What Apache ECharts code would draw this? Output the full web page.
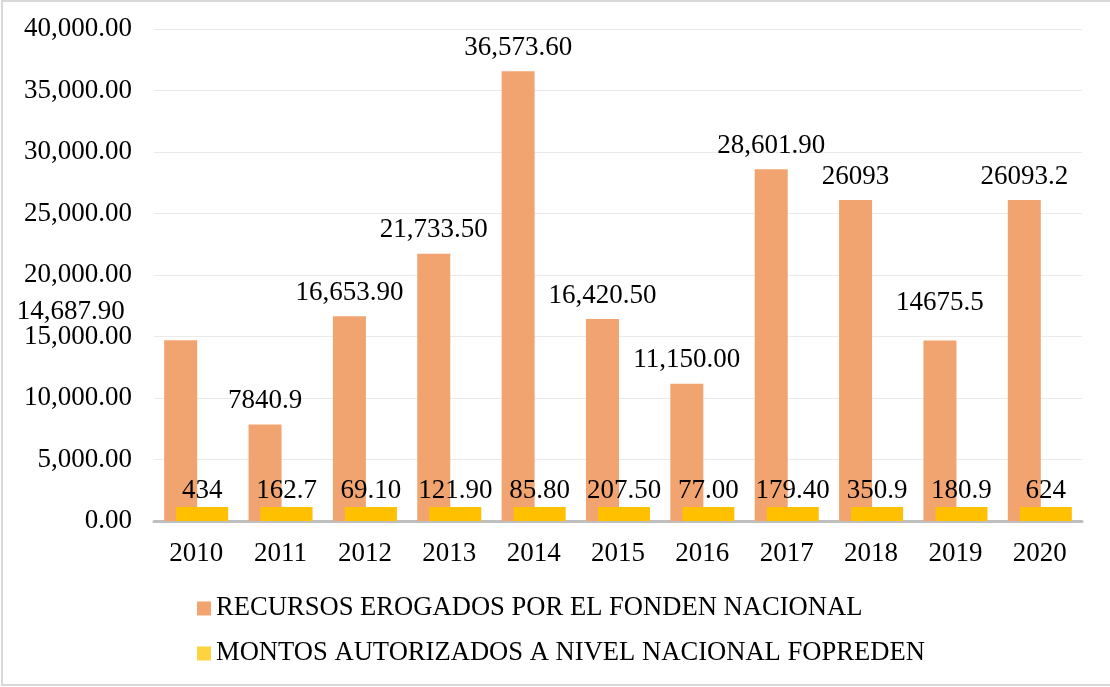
<!DOCTYPE html>
<html>
<head>
<meta charset="utf-8">
<script src="https://cdn.jsdelivr.net/npm/echarts@6/dist/echarts.min.js"></script>
<style>
  html, body { margin: 0; padding: 0; background: #fff; }
  #chart { width: 1110px; height: 687px; }
</style>
</head>
<body>
<div id="chart"></div>
<script>
// Years on the category axis
const years = ['2010', '2011', '2012', '2013', '2014', '2015', '2016', '2017', '2018', '2019', '2020'];

// FONDEN national resources paid out
const recursosFonden = [14687.90, 7840.9, 16653.90, 21733.50, 36573.60, 16420.50, 11150.00, 28601.90, 26093, 14675.5, 26093.2];
const recursosLabels = ['14,687.90', '7840.9', '16,653.90', '21,733.50', '36,573.60', '16,420.50', '11,150.00', '28,601.90', '26093', '14675.5', '26093.2'];

// FOPREDEN amounts authorised nationally
const montosFopreden = [434, 162.7, 69.10, 121.90, 85.80, 207.50, 77.00, 179.40, 350.9, 180.9, 624];
const montosLabels = ['434', '162.7', '69.10', '121.90', '85.80', '207.50', '77.00', '179.40', '350.9', '180.9', '624'];

// Series names shown in the legend
const seriesNames = ['RECURSOS EROGADOS POR EL FONDEN NACIONAL', 'MONTOS AUTORIZADOS A NIVEL NACIONAL FOPREDEN'];

// Value axis range
const yMin = 0, yMax = 40000, yStep = 5000;

const FONT = '"Liberation Serif", "Times New Roman", serif';
const FS = 27;
const ORANGE = '#F1A46F';
const YELLOW = '#FFC000';

const chart = echarts.init(document.getElementById('chart'), null, { renderer: 'canvas' });

const fmt2 = v => v.toLocaleString('en-US', { minimumFractionDigits: 2, maximumFractionDigits: 2 });

// A couple of value labels sit away from their bars
const labelOffsets = { 0: [-110, -5], 9: [0, -14] };

chart.setOption({
  animation: false,
  backgroundColor: '#fff',
  textStyle: { fontFamily: FONT, color: '#000' },
  graphic: [{
    type: 'rect',
    shape: { x: 2, y: 1, width: 1120, height: 684 },
    style: { fill: 'none', stroke: '#D9D9D9', lineWidth: 2 },
    silent: true,
    z: -10
  }],
  grid: { left: 154, right: 28, top: 29, bottom: 166, containLabel: false },
  legend: {
    orient: 'vertical',
    left: 192,
    top: 590,
    itemWidth: 14,
    itemHeight: 14,
    itemGap: 18,
    icon: 'rect',
    textStyle: { fontFamily: FONT, fontSize: 26.6, color: '#000', lineHeight: 27, padding: [0, 0, 0, 0] },
    data: [
      { name: seriesNames[0], itemStyle: { color: ORANGE } },
      { name: seriesNames[1], itemStyle: { color: '#FFD23F' } }
    ]
  },
  xAxis: {
    type: 'category',
    data: years,
    axisTick: { show: false },
    axisLine: { lineStyle: { color: '#BFBFBF', width: 3 } },
    axisLabel: { fontFamily: FONT, fontSize: FS, color: '#000', margin: 19, lineHeight: 27 },
    splitLine: { show: false }
  },
  yAxis: {
    type: 'value',
    min: yMin,
    max: yMax,
    interval: yStep,
    axisLine: { show: false },
    axisTick: { show: false },
    axisLabel: { fontFamily: FONT, fontSize: FS, color: '#000', margin: 22, formatter: fmt2 },
    splitLine: { lineStyle: { color: '#EAEAEA', width: 1 } }
  },
  series: [
    {
      name: seriesNames[0],
      type: 'bar',
      barWidth: 33,
      barGap: '-63.6%',
      itemStyle: { color: ORANGE },
      data: recursosFonden.map((v, i) => labelOffsets[i]
        ? { value: v, label: { offset: labelOffsets[i] } }
        : v),
      label: {
        show: true,
        position: 'top',
        distance: 10,
        fontFamily: FONT,
        fontSize: FS,
        lineHeight: 27,
        color: '#000',
        formatter: p => recursosLabels[p.dataIndex]
      },
      z: 2
    },
    {
      name: seriesNames[1],
      type: 'bar',
      barWidth: 52,
      barGap: '-63.6%',
      barMinHeight: 14,
      itemStyle: { color: YELLOW },
      data: montosFopreden,
      label: {
        show: true,
        position: 'top',
        distance: 3,
        fontFamily: FONT,
        fontSize: FS,
        lineHeight: 27,
        color: '#000',
        formatter: p => montosLabels[p.dataIndex]
      },
      z: 3
    }
  ]
});
</script>
</body>
</html>
